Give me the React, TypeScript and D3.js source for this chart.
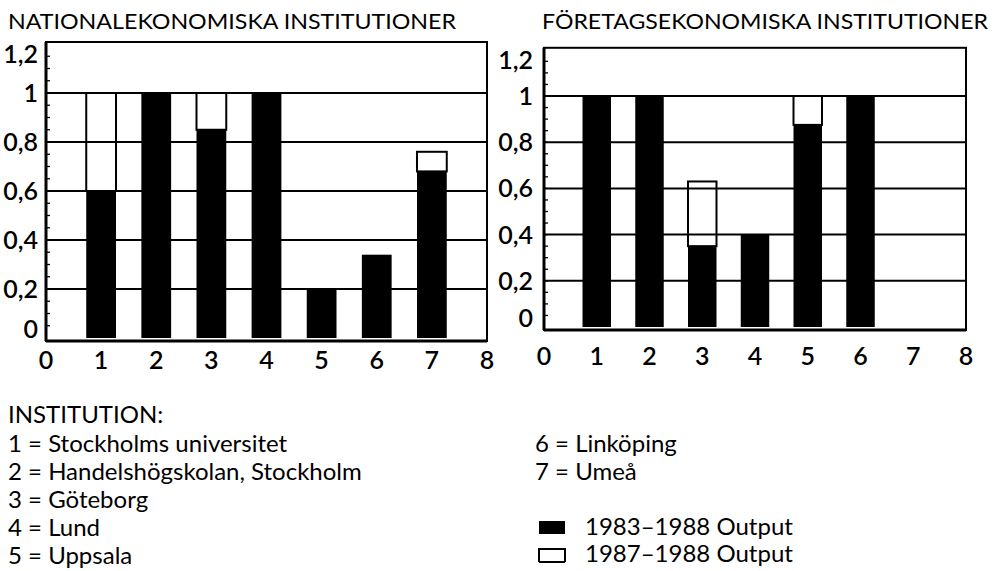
import React from "react";
import * as d3 from "d3";

// institutions 1..7 on the x axis
const institutionIds = [1, 2, 3, 4, 5, 6, 7];
const institutionNames = [
  "Stockholms universitet",
  "Handelshögskolan, Stockholm",
  "Göteborg",
  "Lund",
  "Uppsala",
  "Linköping",
  "Umeå",
];

// black part: 1983-1988 output, outline top: 1987-1988 output
const nekOutput8388 = [0.6, 1.0, 0.85, 1.0, 0.2, 0.34, 0.68];
const nekOutput8788 = [1.0, 1.0, 1.0, 1.0, 0.2, 0.34, 0.76];
const fekOutput8388 = [1.0, 1.0, 0.35, 0.4, 0.875, 1.0, 0];
const fekOutput8788 = [1.0, 1.0, 0.63, 0.4, 1.0, 1.0, 0];

const yTicks = [0, 0.2, 0.4, 0.6, 0.8, 1, 1.2];
const yMinor = d3.range(0.05, 1.2, 0.05);
const xTicks = [0, 1, 2, 3, 4, 5, 6, 7, 8];
const legendSeries = ["1983–1988 Output", "1987–1988 Output"];

const FONT = "Lato, 'Open Sans', sans-serif";
const fmt = (v: number) => d3.format("~g")(+v.toFixed(2)).replace(".", ",");

type PanelProps = {
  title: string;
  low: number[];
  high: number[];
  x0: number;
  x1: number;
  yZero: number;
  yOne: number;
  labelGap: number;
  xLabelDy: number;
  titleX: number;
  titleW: number;
};

function Panel({ title, low, high, x0, x1, yZero, yOne, labelGap, xLabelDy, titleX, titleW }: PanelProps) {
  const x = d3.scaleLinear().domain([0, 8]).range([x0, x1]);
  const y = d3.scaleLinear().domain([0, 1]).range([yZero, yOne]);
  const top = y(1.2) - 2;
  const bottom = yZero + 3;
  const bw = (x(1) - x(0)) * 0.54;

  return (
    <g>
      <text x={titleX} y={29} fontSize={22} fontFamily={FONT} textLength={titleW} lengthAdjust="spacingAndGlyphs">
        {title}
      </text>
      {/* grid */}
      {yTicks.filter((t) => t > 0 && t < 1.2).map((t) => (
        <line key={t} x1={x0} x2={x1} y1={y(t)} y2={y(t)} stroke="#000" strokeWidth={2} />
      ))}
      {/* minor ticks on left edge */}
      {yMinor.map((t, i) => (
        <line key={i} x1={x0} x2={x0 + 4} y1={y(t)} y2={y(t)} stroke="#000" strokeWidth={1.3} />
      ))}
      {/* bars */}
      {institutionIds.map((id, i) => (
        <g key={id}>
          {high[i] > low[i] && (
            <rect
              x={x(id) - bw / 2}
              width={bw}
              y={y(high[i])}
              height={y(low[i]) - y(high[i])}
              fill="none"
              stroke="#000"
              strokeWidth={2}
            />
          )}
          {low[i] > 0 && (
            <rect x={x(id) - bw / 2} width={bw} y={y(low[i])} height={yZero - y(low[i])} fill="#000" />
          )}
        </g>
      ))}
      {/* frame */}
      <rect x={x0} y={top} width={x1 - x0} height={bottom - top} fill="none" stroke="#000" strokeWidth={2} />
      <line x1={x0} x2={x0} y1={top} y2={bottom} stroke="#000" strokeWidth={3} />
      <line x1={x0} x2={x1} y1={bottom} y2={bottom} stroke="#000" strokeWidth={3} />
      {/* y labels */}
      {yTicks.map((t) => {
        const shift = t === 0 ? -9 : t === 1.2 ? 10 : 0;
        return (
          <text
            key={t}
            x={x0 - labelGap}
            y={y(t) + shift}
            dy="0.36em"
            textAnchor="end"
            fontSize={25}
            fontWeight={600}
            fontFamily={FONT}
          >
            {fmt(t)}
          </text>
        );
      })}
      {/* x labels */}
      {xTicks.map((t) => (
        <text key={t} x={x(t)} y={bottom + xLabelDy} textAnchor="middle" fontSize={25} fontWeight={600} fontFamily={FONT}>
          {t}
        </text>
      ))}
    </g>
  );
}

export default function App() {
  return (
    <svg width={1000} height={571} style={{ position: "absolute", left: 0, top: 0, background: "#fff" }}>
      <Panel
        title="NATIONALEKONOMISKA INSTITUTIONER"
        low={nekOutput8388}
        high={nekOutput8788}
        x0={46}
        x1={487}
        yZero={338}
        yOne={93}
        labelGap={8}
        xLabelDy={28}
        titleX={8}
        titleW={448}
      />
      <Panel
        title="FÖRETAGSEKONOMISKA INSTITUTIONER"
        low={fekOutput8388}
        high={fekOutput8788}
        x0={544}
        x1={966}
        yZero={327}
        yOne={96}
        labelGap={11}
        xLabelDy={35}
        titleX={542}
        titleW={446}
      />
      <g fontFamily={FONT} fontSize={24}>
        <text x={8} y={423}>INSTITUTION:</text>
        {institutionNames.slice(0, 5).map((n, i) => (
          <text key={n} x={8} y={452 + i * 28}>
            {`${institutionIds[i]} = ${n}`}
          </text>
        ))}
        {institutionNames.slice(5).map((n, i) => (
          <text key={n} x={535} y={452 + i * 27.5}>
            {`${institutionIds[i + 5]} = ${n}`}
          </text>
        ))}
        <rect x={539} y={521} width={26} height={13} fill="#000" />
        <path d="M539,562 L539,549 L565,549 L565,562 M539,562 L565,562" fill="none" stroke="#000" strokeWidth={2} />
        {legendSeries.map((s, i) => (
          <text key={s} x={585} y={535 + i * 27}>
            {s}
          </text>
        ))}
      </g>
    </svg>
  );
}
